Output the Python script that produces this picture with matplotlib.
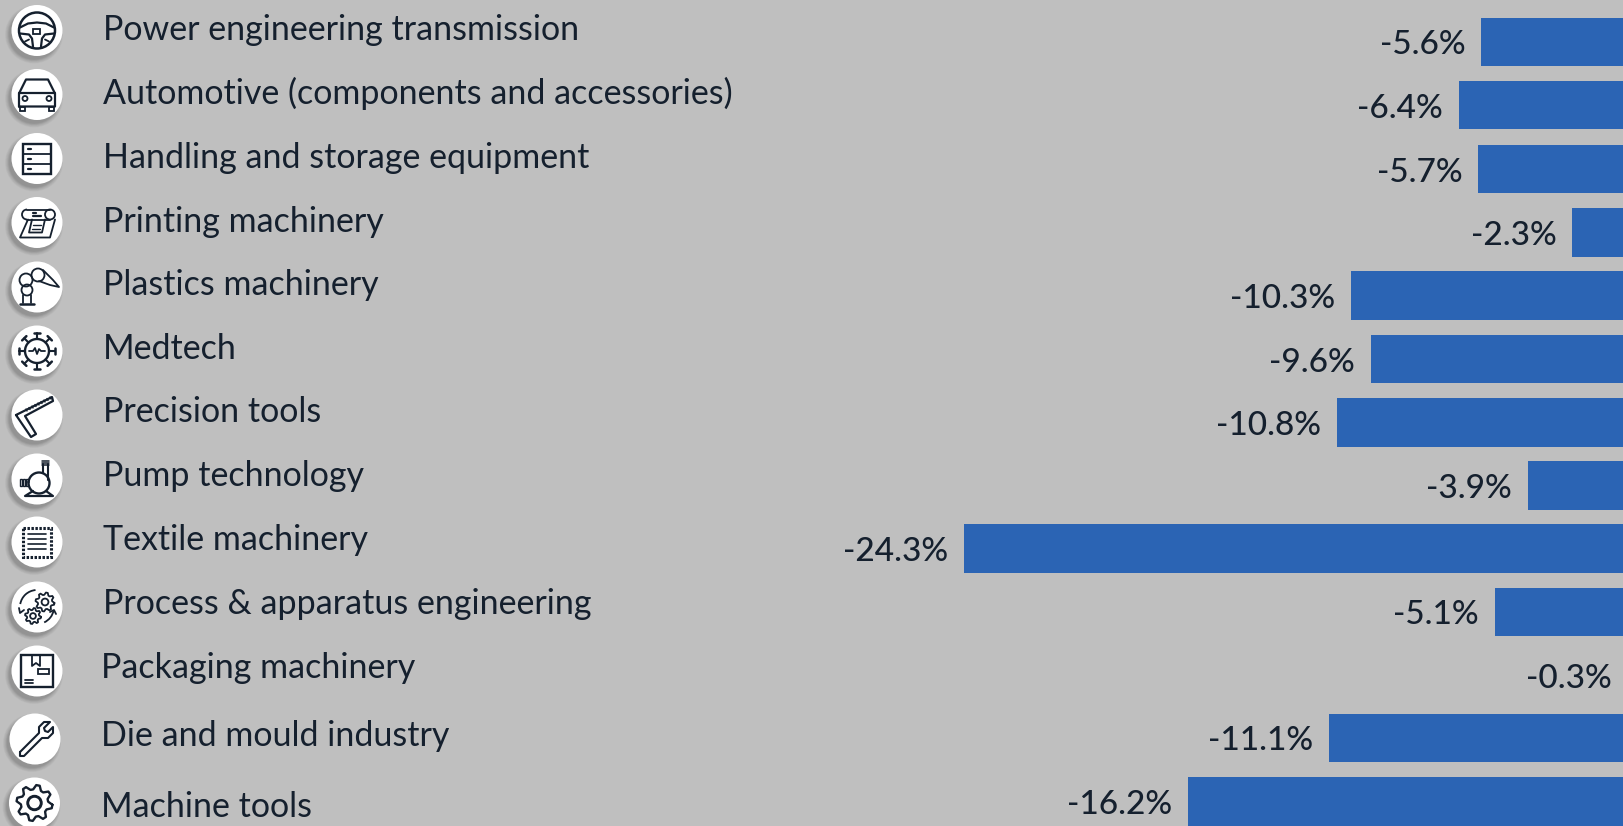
import numpy as np
import matplotlib
matplotlib.use("Agg")
import matplotlib.pyplot as plt
from matplotlib.patches import Circle, Rectangle, Arc

categories = ["Power engineering transmission", "Automotive (components and accessories)",
              "Handling and storage equipment", "Printing machinery", "Plastics machinery",
              "Medtech", "Precision tools", "Pump technology", "Textile machinery",
              "Process & apparatus engineering", "Packaging machinery",
              "Die and mould industry", "Machine tools"]
values = [-5.6, -6.4, -5.7, -2.3, -10.3, -9.6, -10.8, -3.9, -24.3, -5.1, -0.3, -11.1, -16.2]

# layout in pixels of the 1624x826 picture, rows are not quite evenly spaced
bar_y = [42, 105, 169, 232.5, 295.5, 359, 422.5, 485.5, 548.5, 612, 676, 738, 801.5]
label_base = [40, 104, 167.5, 231.5, 295, 359, 422.5, 486.5, 550, 614.5, 677.5, 746.5, 817]
label_x = [103] * 10 + [101] * 3
icon_x = [37] * 11 + [35, 34.5]
icon_y = [30.5, 94.5, 158.5, 222.5, 287, 351, 415, 479, 542, 607, 671, 739, 803]

bg = "#bfbfbf"
blue = "#2b64b4"
ink = "#15202e"
px_per_pct = 27.65
zero_px = 1636
font = "Lato"

fig = plt.figure(figsize=(16.24, 8.26), dpi=100, facecolor=bg)

# bars: x axis in percent, y axis in pixels
ax = fig.add_axes([0, 0, 1, 1], facecolor=bg)
ax.set_xlim(-zero_px / px_per_pct, (1624 - zero_px) / px_per_pct)
ax.set_ylim(826, 0)
ax.axis("off")
ax.barh(bar_y, values, height=48.5, color=blue, edgecolor="none")
for v, y in zip(values, bar_y):
    ax.annotate(f"{v:.1f}%", xy=(v, y + 12.5), xytext=(-11.5, 0), textcoords="offset points",
                ha="right", va="baseline", fontsize=24, fontweight="medium", color=ink,
                family=font, annotation_clip=False)

# icons and labels: both axes in pixels
ov = fig.add_axes([0, 0, 1, 1], facecolor="none")
ov.set_xlim(0, 1624)
ov.set_ylim(826, 0)
ov.axis("off")

for name, x, y in zip(categories, label_x, label_base):
    ov.text(x, y, name, ha="left", va="baseline", fontsize=24.5, color=ink, family=font)

LW = 1.3


def ln(cx, cy, pts, lw=LW, closed=False):
    p = np.array(pts, dtype=float)
    if closed:
        p = np.vstack([p, p[0]])
    ov.plot(cx + p[:, 0], cy + p[:, 1], color=ink, lw=lw, solid_capstyle="round",
            solid_joinstyle="round", zorder=5)


def circ(cx, cy, x, y, r, lw=LW, fill="none"):
    ov.add_patch(Circle((cx + x, cy + y), r, fc=fill, ec=ink, lw=lw, zorder=5))


def box(cx, cy, x, y, w, h, lw=LW, fill="none"):
    ov.add_patch(Rectangle((cx + x, cy + y), w, h, fc=fill, ec=ink, lw=lw, zorder=5))


def arc(cx, cy, x, y, r, a0, a1, lw=LW):
    ov.add_patch(Arc((cx + x, cy + y), 2 * r, 2 * r, theta1=a0, theta2=a1, ec=ink, lw=lw, zorder=5))


def gear(cx, cy, x, y, r, teeth=8, lw=LW):
    t = np.linspace(0, 2 * np.pi, teeth * 4, endpoint=False) + np.pi / teeth / 4
    rad = np.tile([r, r, r * 0.76, r * 0.76], teeth)
    ln(cx, cy, np.c_[x + rad * np.cos(t), y + rad * np.sin(t)], lw=lw, closed=True)
    circ(cx, cy, x, y, r * 0.36, lw=lw)


def wheel(cx, cy):
    circ(cx, cy, 0, 0, 18, lw=1.8)
    box(cx, cy, -3.5, -2, 7, 5)
    ln(cx, cy, [(-17, -3), (-9, -7), (0, -8), (9, -7), (17, -3)], lw=1.6)
    ln(cx, cy, [(-17, 3), (-8, 4), (-5, 8), (-4, 16)], lw=1.6)
    ln(cx, cy, [(17, 3), (8, 4), (5, 8), (4, 16)], lw=1.6)
    ln(cx, cy, [(-12, 11), (-8, 9)])
    ln(cx, cy, [(12, 11), (8, 9)])


def car(cx, cy):
    ln(cx, cy, [(-18, 12), (-18, -1), (-11, -15), (11, -15), (18, -1), (18, 12), (-18, 12)], lw=1.6)
    ln(cx, cy, [(-18, -2), (18, -2)], lw=1.6)
    circ(cx, cy, -12, 4, 2.5)
    circ(cx, cy, 12, 4, 2.5)
    box(cx, cy, -17, 12, 5, 4)
    box(cx, cy, 12, 12, 5, 4)


def storage(cx, cy):
    ov.add_patch(Rectangle((cx - 14, cy - 15), 28, 30, fc="none", ec=ink, lw=1.7, zorder=5))
    ln(cx, cy, [(-14, -5), (14, -5)])
    ln(cx, cy, [(-14, 5), (14, 5)])
    for dy in (-10, 0, 10):
        ln(cx, cy, [(-9, dy), (-6, dy)], lw=1.6)


def printer(cx, cy):
    ln(cx, cy, [(-9, -3), (-17, 15), (13, 15), (18, -3)])
    ln(cx, cy, [(13, -13), (-10, -13)])
    arc(cx, cy, -10, -8, 5, 90, 270)
    ln(cx, cy, [(-10, -3), (13, -3)])
    circ(cx, cy, 13, -8, 5)
    ln(cx, cy, [(-5, -3), (-8, 10), (5, 10), (8, -3)])
    for dy, w in ((-10, 3), (-7, 8)):
        ln(cx, cy, [(-4, dy), (-4 + w, dy)], lw=1.6)
    ln(cx, cy, [(-4, 2), (4, 2)], lw=1)
    ln(cx, cy, [(-5, 6), (3, 6)], lw=1)


def robot(cx, cy):
    circ(cx, cy, -11, -7, 6.5)
    circ(cx, cy, 1, -12, 6.5)
    circ(cx, cy, -10, 3, 5.5)
    ln(cx, cy, [(6, -17), (16, -7), (22, 0), (13, -2), (2, -6)])
    ln(cx, cy, [(-14, 8), (-14, 16)])
    ln(cx, cy, [(-6, 8), (-6, 16)])
    ln(cx, cy, [(-17, 17), (-3, 17)], lw=1.8)


def virus(cx, cy):
    circ(cx, cy, 0, 0, 12, lw=1.7)
    for a in np.arange(0, 360, 45):
        c, s = np.cos(np.radians(a)), np.sin(np.radians(a))
        ln(cx, cy, [(12 * c, 12 * s), (18 * c, 18 * s)], lw=1.5)
        ln(cx, cy, [(18 * c - 3 * s, 18 * s + 3 * c), (18 * c + 3 * s, 18 * s - 3 * c)], lw=1.8)
    ln(cx, cy, [(-8, 0), (-4, 0), (-2, -3), (0, 3), (2, -2), (4, 0), (8, 0)])


def square_rule(cx, cy):
    ln(cx, cy, [(-21, 0), (15, -18), (16, -14), (-12, 1), (-1, 19), (-6, 22), (-21, 0)], lw=1.6)
    for v in np.arange(-11, 14, 3):
        ln(cx, cy, [(v, -6 - (v + 11) * 0.5), (v + 1, -4 - (v + 11) * 0.5)], lw=1)


def pump(cx, cy):
    circ(cx, cy, 2, 4, 10.5, lw=1.7)
    for x0 in (-17, -14, -11):
        box(cx, cy, x0, 0, 2, 7, lw=1)
    ln(cx, cy, [(-9, 3), (-8, 3)])
    ln(cx, cy, [(6, -6), (6, -15)], lw=1.5)
    ln(cx, cy, [(11, 1), (11, -15)], lw=1.5)
    for dy in (-18, -16, -14):
        ln(cx, cy, [(5, dy), (12, dy)], lw=1.1)
    ln(cx, cy, [(-4, 12), (-12, 17), (16, 17), (9, 12)], lw=1.6)


def textile(cx, cy):
    ov.add_patch(Rectangle((cx - 14, cy - 14), 28, 29, fc="none", ec=ink, lw=2.2, ls=(0, (0.8, 0.5)), zorder=5))
    for dy in (-8, -3, 2, 7):
        ln(cx, cy, [(-9, dy), (9, dy)], lw=1.2)


def process(cx, cy):
    gear(cx, cy, 8, -5, 9.5)
    gear(cx, cy, -4, 9, 8)
    arc(cx, cy, 0, 0, 17, 190, 265)
    ln(cx, cy, [(-18, 1), (-17, 6), (-13, 3)])
    arc(cx, cy, 0, 0, 17, 10, 65)
    ln(cx, cy, [(19, 7), (17, 3), (13, 5)])


def package(cx, cy):
    box(cx, cy, -16, -16, 32, 32, lw=1.7)
    ln(cx, cy, [(-5, -16), (-5, -5), (-1, -8), (3, -5), (3, -16)])
    box(cx, cy, 1, -2, 11, 5)
    ln(cx, cy, [(-12, 9), (-4, 9)])
    ln(cx, cy, [(-12, 12), (-4, 12)])


def wrench(cx, cy):
    ln(cx, cy, [(-15, 13), (4, -6), (4, -12), (9, -17), (15, -17), (9, -11), (10, -8), (13, -7),
                (18, -12), (18, -6), (13, -1), (7, -1), (-11, 17), (-15, 17), (-15, 13)], lw=1.5)


def machine_gear(cx, cy):
    gear(cx, cy, 0, 0, 18, teeth=8, lw=1.7)
    circ(cx, cy, 0, 0, 7, lw=1.7)


icons = [wheel, car, storage, printer, robot, virus, square_rule, pump, textile, process,
         package, wrench, machine_gear]

for draw, cx, cy in zip(icons, icon_x, icon_y):
    # soft shadow down and to the left
    for r, a in zip(np.arange(29, 24.5, -0.5), [0.04] * 5 + [0.07] * 4):
        ov.add_patch(Circle((cx - 3, cy + 4), r, fc="#555555", ec="none", alpha=a, zorder=3))
    ov.add_patch(Circle((cx, cy), 25.5, fc="white", ec="none", zorder=4))
    draw(cx, cy)

fig.savefig("out.png", dpi=100, facecolor=bg)
